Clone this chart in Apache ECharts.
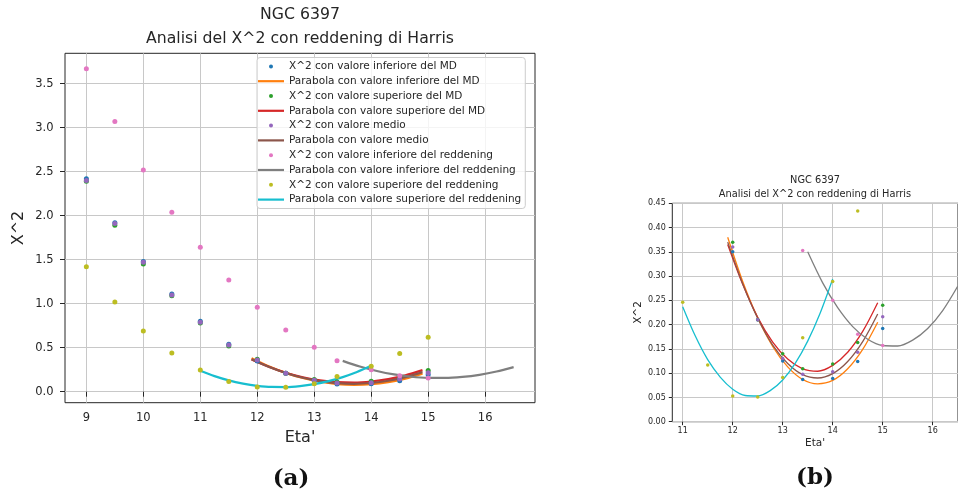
<!DOCTYPE html>
<html>
<head>
<meta charset="utf-8">
<script src="https://cdn.jsdelivr.net/npm/echarts@6/dist/echarts.min.js"></script>
<style>
html,body{margin:0;padding:0;background:#fff;}
#chart{width:958px;height:495px;}
</style>
</head>
<body>
<div id="chart"></div>
<script>
// ---- data ----
const etaPts = [9, 9.5, 10, 10.5, 11, 11.5, 12, 12.5, 13, 13.4, 14, 14.5, 15];
const chiInfMD  = [2.42, 1.92, 1.48, 1.11, 0.80, 0.54, 0.35, 0.21, 0.125, 0.087, 0.089, 0.124, 0.192];
const chiSupMD  = [2.39, 1.89, 1.45, 1.09, 0.78, 0.52, 0.37, 0.21, 0.140, 0.109, 0.119, 0.163, 0.240];
const chiMedio  = [2.40, 1.91, 1.47, 1.10, 0.79, 0.53, 0.36, 0.21, 0.130, 0.098, 0.103, 0.143, 0.216];
const chiInfRed = [3.67, 3.07, 2.52, 2.04, 1.64, 1.27, 0.96, 0.70, 0.505, 0.353, 0.250, 0.180, 0.157];
const chiSupRed = [1.42, 1.02, 0.69, 0.44, 0.246, 0.117, 0.053, 0.051, 0.091, 0.173, 0.289, 0.434, 0.620];

const etaParMD  = [11.9, 12.2, 12.5, 12.8, 13.1, 13.4, 13.7, 14.0, 14.3, 14.6, 14.9];
const parInfMD  = [0.380, 0.289, 0.214, 0.155, 0.113, 0.087, 0.078, 0.085, 0.109, 0.149, 0.205];
const parSupMD  = [0.365, 0.283, 0.215, 0.164, 0.129, 0.109, 0.104, 0.116, 0.143, 0.186, 0.245];
const parMedio  = [0.370, 0.284, 0.213, 0.158, 0.120, 0.097, 0.090, 0.099, 0.124, 0.165, 0.222];
const etaParInfRed = [13.5, 13.8, 14.1, 14.4, 14.7, 15.0, 15.3, 15.6, 15.9, 16.2, 16.5];
const parInfRed    = [0.350, 0.286, 0.235, 0.196, 0.170, 0.157, 0.156, 0.168, 0.192, 0.229, 0.279];
const etaParSupRed = [11.0, 11.25, 11.5, 11.75, 12.0, 12.25, 12.5, 12.75, 13.0, 13.25, 13.5, 13.75, 14.0];
const parSupRed    = [0.237, 0.177, 0.128, 0.092, 0.067, 0.054, 0.053, 0.064, 0.086, 0.120, 0.166, 0.224, 0.294];

const xTicksA = [9, 10, 11, 12, 13, 14, 15, 16];
const yTicksA = [0, 0.5, 1.0, 1.5, 2.0, 2.5, 3.0, 3.5];
const xTicksB = [11, 12, 13, 14, 15, 16];
const yTicksB = [0, 0.05, 0.10, 0.15, 0.20, 0.25, 0.30, 0.35, 0.40, 0.45];

const titleTop = 'NGC 6397';
const titleSub = 'Analisi del X^2 con reddening di Harris';

const seriesDefs = [
  {name: 'X^2 con valore inferiore del MD', kind: 'scatter', x: etaPts, y: chiInfMD, color: '#1f77b4'},
  {name: 'Parabola con valore inferiore del MD', kind: 'line', x: etaParMD, y: parInfMD, color: '#ff7f0e'},
  {name: 'X^2 con valore superiore del MD', kind: 'scatter', x: etaPts, y: chiSupMD, color: '#2ca02c'},
  {name: 'Parabola con valore superiore del MD', kind: 'line', x: etaParMD, y: parSupMD, color: '#d62728'},
  {name: 'X^2 con valore medio', kind: 'scatter', x: etaPts, y: chiMedio, color: '#9467bd'},
  {name: 'Parabola con valore medio', kind: 'line', x: etaParMD, y: parMedio, color: '#8c564b'},
  {name: 'X^2 con valore inferiore del reddening', kind: 'scatter', x: etaPts, y: chiInfRed, color: '#e377c2'},
  {name: 'Parabola con valore inferiore del reddening', kind: 'line', x: etaParInfRed, y: parInfRed, color: '#7f7f7f'},
  {name: 'X^2 con valore superiore del reddening', kind: 'scatter', x: etaPts, y: chiSupRed, color: '#bcbd22'},
  {name: 'Parabola con valore superiore del reddening', kind: 'line', x: etaParSupRed, y: parSupRed, color: '#17becf'}
];

function zip(xs, ys) { return xs.map((v, i) => [v, ys[i]]); }

function buildSeries(gi, dot, lw) {
  return seriesDefs.map(d => {
    const s = {
      name: d.name,
      type: d.kind,
      xAxisIndex: gi, yAxisIndex: gi,
      data: zip(d.x, d.y),
      itemStyle: {color: d.color, opacity: 1, borderWidth: 0},
      emphasis: {disabled: true},
      clip: true,
      silent: true,
      z: 3
    };
    if (d.kind === 'scatter') {
      s.symbol = 'circle';
      s.symbolSize = dot;
    } else {
      s.symbol = 'none';
      s.showSymbol = false;
      s.smooth = 0.3;
      s.lineStyle = {color: d.color, width: lw, opacity: 1};
    }
    return s;
  });
}

const font = 'DejaVu Sans';
const ink = '#262626';
const gridCol = '#c8c8c8';

function valueAxis(gi, min, max, ticks, fs, margin, tickLen, name, nameGap, nameFs, isY) {
  return {
    gridIndex: gi, type: 'value', min: min, max: max,
    axisLine: {show: false},
    axisTick: {show: true, length: tickLen, lineStyle: {color: ink, width: 1}, customValues: ticks},
    axisLabel: {fontSize: fs, color: ink, fontFamily: font, margin: margin, customValues: ticks,
      formatter: v => isY && gi === 1 ? v.toFixed(2) : (isY ? v.toFixed(1) : String(v))},
    splitLine: {show: false},
    name: name, nameLocation: 'middle', nameGap: nameGap,
    nameTextStyle: {fontSize: nameFs, color: ink, fontFamily: font}
  };
}

// grid lines drawn as mark lines at the tick values (kept under the data)
function gridLines(gi, xt, yt) {
  return {
    type: 'line', xAxisIndex: gi, yAxisIndex: gi, data: [], silent: true,
    z: 0,
    markLine: {
      silent: true, symbol: 'none', animation: false, label: {show: false},
      z: 0, zlevel: 0,
      lineStyle: {color: gridCol, width: 1, type: 'solid'},
      data: xt.map(v => ({xAxis: v})).concat(yt.map(v => ({yAxis: v})))
    }
  };
}

const lineIcon = 'path://M0,0 L26,0 L26,2.2 L0,2.2 Z';

const option = {
  animation: false,
  backgroundColor: '#ffffff',
  textStyle: {fontFamily: font},
  grid: [
    {left: 65, top: 53.3, width: 470, height: 349.4, show: true, borderColor: ink, borderWidth: 1, backgroundColor: 'transparent'},
    {left: 672.3, top: 203.3, width: 287, height: 218.4, show: true, borderColor: ink, borderWidth: 1, backgroundColor: 'transparent'}
  ],
  xAxis: [
    valueAxis(0, 8.625, 16.875, xTicksA, 11.5, 9, 5, "Eta'", 27, 16, false),
    valueAxis(1, 10.792, 16.506, xTicksB, 8, 5, 3.5, "Eta'", 16, 10.5, false)
  ],
  yAxis: [
    valueAxis(0, -0.125, 3.845, yTicksA, 11.5, 11.5, 5, 'X^2', 38, 16, true),
    valueAxis(1, 0, 0.45, yTicksB, 8, 6.5, 3.5, 'X^2', 25, 10.5, true)
  ],
  legend: {
    show: true,
    left: 257, top: 57.5,
    orient: 'vertical',
    padding: [1.5, 4, 1.5, 1],
    itemWidth: 26, itemHeight: 4, itemGap: 0,
    backgroundColor: 'rgba(255,255,255,0.8)',
    borderColor: '#cccccc', borderWidth: 1, borderRadius: 3,
    selectedMode: false,
    textStyle: {fontSize: 10.5, color: ink, fontFamily: font, lineHeight: 14.8},
    data: seriesDefs.map(d => d.kind === 'line'
      ? {name: d.name, icon: lineIcon, itemStyle: {color: d.color, opacity: 1}}
      : {name: d.name, icon: 'circle', itemStyle: {color: d.color, opacity: 1}}),
    z: 10
  },
  graphic: [
    {type: 'text', x: 300, y: 15, style: {text: titleTop, font: '15.7px "DejaVu Sans"', fill: ink, align: 'center', verticalAlign: 'middle'}},
    {type: 'text', x: 300, y: 38.5, style: {text: titleSub, font: '15.7px "DejaVu Sans"', fill: ink, align: 'center', verticalAlign: 'middle'}},
    {type: 'text', x: 815, y: 180, style: {text: titleTop, font: '9.8px "DejaVu Sans"', fill: ink, align: 'center', verticalAlign: 'middle'}},
    {type: 'text', x: 815, y: 194, style: {text: titleSub, font: '9.8px "DejaVu Sans"', fill: ink, align: 'center', verticalAlign: 'middle'}},
    {type: 'text', x: 291, y: 479, style: {text: '(a)', font: 'bold 23px "DejaVu Serif"', fill: '#111', align: 'center', verticalAlign: 'middle'}},
    {type: 'text', x: 815, y: 478, style: {text: '(b)', font: 'bold 23px "DejaVu Serif"', fill: '#111', align: 'center', verticalAlign: 'middle'}}
  ],
  series: [gridLines(0, xTicksA, yTicksA), gridLines(1, xTicksB, yTicksB)]
    .concat(buildSeries(0, 5, 2.2))
    .concat(buildSeries(1, 3.5, 1.3))
};

const chart = echarts.init(document.getElementById('chart'), null, {renderer: 'canvas'});
chart.setOption(option);
</script>
</body>
</html>
